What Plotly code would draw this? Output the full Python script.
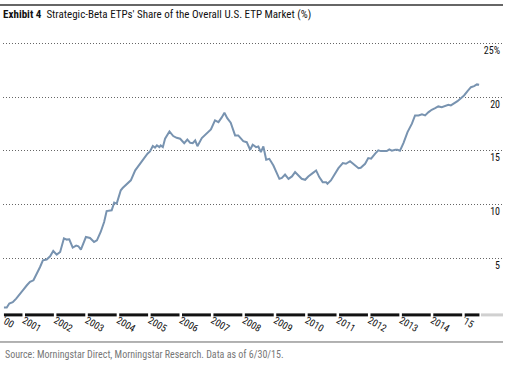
import plotly.graph_objects as go

# Data (decimal years, % share)
year = [2000.36, 2000.45, 2000.53, 2000.64, 2000.75, 2000.85, 2000.98, 2001.09, 2001.19, 2001.30,
        2001.40, 2001.51, 2001.60, 2001.72, 2001.83, 2001.93, 2002.04, 2002.15, 2002.27, 2002.36,
        2002.44, 2002.55, 2002.66, 2002.73, 2002.81, 2002.97, 2003.10, 2003.23, 2003.32, 2003.44,
        2003.55, 2003.63, 2003.79, 2003.87, 2003.95, 2004.08, 2004.14, 2004.27, 2004.40, 2004.54,
        2004.69, 2004.80, 2004.93, 2005.01, 2005.10, 2005.17, 2005.23, 2005.31, 2005.35, 2005.42,
        2005.49, 2005.63, 2005.75, 2005.86, 2005.97, 2006.10, 2006.20, 2006.29, 2006.37, 2006.45,
        2006.52, 2006.66, 2006.82, 2006.95, 2007.08, 2007.19, 2007.30, 2007.38, 2007.47, 2007.58,
        2007.72, 2007.82, 2007.98, 2008.09, 2008.20, 2008.28, 2008.39, 2008.46, 2008.54, 2008.62,
        2008.71, 2008.81, 2008.94, 2009.05, 2009.13, 2009.21, 2009.31, 2009.42, 2009.53, 2009.63,
        2009.74, 2009.84, 2009.95, 2010.05, 2010.19, 2010.30, 2010.40, 2010.51, 2010.62, 2010.66,
        2010.77, 2010.87, 2011.01, 2011.15, 2011.25, 2011.38, 2011.51, 2011.65, 2011.72, 2011.86,
        2011.96, 2012.05, 2012.18, 2012.28, 2012.36, 2012.46, 2012.55, 2012.63, 2012.71, 2012.82,
        2012.89, 2012.97, 2013.08, 2013.21, 2013.35, 2013.45, 2013.56, 2013.67, 2013.77, 2013.88,
        2013.98, 2014.09, 2014.19, 2014.30, 2014.41, 2014.51, 2014.59, 2014.69, 2014.80, 2014.91,
        2015.01, 2015.12, 2015.23, 2015.33, 2015.42, 2015.49]
share = [0.41, 0.41, 0.79, 0.91, 1.25, 1.65, 2.09, 2.49, 2.80, 2.95,
         3.51, 4.19, 4.81, 4.88, 5.19, 5.68, 5.34, 5.59, 6.86, 6.74,
         6.77, 6.00, 6.18, 6.12, 5.81, 6.98, 6.89, 6.52, 6.67, 7.45,
         8.38, 9.40, 9.47, 10.18, 10.09, 11.33, 11.54, 11.95, 12.26, 13.19,
         13.81, 14.27, 14.74, 14.95, 15.45, 15.30, 15.51, 15.35, 15.51, 15.35,
         16.13, 16.81, 16.38, 16.22, 16.13, 15.72, 16.06, 15.75, 15.72, 15.97,
         15.44, 16.19, 16.60, 17.00, 17.84, 17.68, 18.14, 18.55, 18.05, 17.62,
         16.44, 16.44, 15.91, 15.81, 15.11, 15.57, 15.35, 15.41, 14.88, 15.41,
         14.17, 14.26, 13.64, 12.87, 12.40, 12.49, 12.80, 12.40, 12.62, 13.02,
         12.71, 12.40, 12.31, 12.62, 12.93, 13.18, 12.56, 12.09, 12.09, 11.94,
         12.25, 12.71, 13.39, 13.86, 13.80, 14.04, 13.74, 13.39, 13.43, 13.80,
         14.33, 14.27, 14.74, 15.05, 14.98, 14.95, 14.98, 15.14, 15.02, 15.11,
         15.11, 15.02, 15.73, 16.75, 17.53, 18.30, 18.30, 18.40, 18.30, 18.61,
         18.83, 18.98, 19.14, 19.07, 19.23, 19.30, 19.23, 19.39, 19.63, 19.91,
         20.16, 20.56, 20.93, 21.03, 21.19, 21.16]

year_starts = [2000.36, 2001, 2002, 2003, 2004, 2005, 2006, 2007, 2008,
               2009, 2010, 2011, 2012, 2013, 2014, 2015]
year_labels = ["'00", "2001", "2002", "2003", "2004", "2005", "2006", "2007", "2008",
               "2009", "2010", "2011", "2012", "2013", "2014", "'15"]
data_end = 2015.5
axis_end = 2016.25
axis_start = 2000.33

y_ticks = [5, 10, 15, 20, 25]
y_labels = ["5", "10", "15", "20", "25%"]

FONT = "Liberation Sans Narrow, Arial Narrow, Roboto Condensed, sans-serif"

fig = go.Figure()
fig.add_trace(go.Scatter(x=year, y=share, mode="lines",
                         line=dict(color="#7893b0", width=2), hoverinfo="skip"))

shapes = []
# year segments under the axis
bounds = year_starts + [data_end]
for i in range(len(year_starts)):
    x0 = bounds[i] + (0.0 if i == 0 else 0.03)
    x1 = bounds[i + 1] - 0.05 if i + 1 < len(year_starts) else bounds[i + 1]
    shapes.append(dict(type="line", xref="x", yref="paper", x0=x0, x1=x1,
                       y0=-0.01, y1=-0.01, line=dict(color="#111111", width=3)))
shapes.append(dict(type="line", xref="x", yref="paper", x0=data_end + 0.05, x1=axis_end,
                   y0=-0.01, y1=-0.01, line=dict(color="#d0d0d0", width=3)))
# top rule and source rule
shapes.append(dict(type="line", xref="paper", yref="paper", x0=-0.006, x1=1.0,
                   y0=1.0586, y1=1.0586, line=dict(color="#333333", width=1.5)))
shapes.append(dict(type="line", xref="paper", yref="paper", x0=-0.006, x1=1.0,
                   y0=-0.1034, y1=-0.1034, line=dict(color="#666666", width=1)))

fig.update_layout(
    width=520, height=365,
    margin=dict(l=3, r=17, t=22, b=53),
    paper_bgcolor="white", plot_bgcolor="white",
    showlegend=False,
    shapes=shapes,
    font=dict(family=FONT, size=10, color="#111111"),
    title=dict(text="<b>Exhibit 4</b>  Strategic-Beta ETPs' Share of the Overall U.S. ETP Market (%)",
               x=0.006, xanchor="left", xref="container",
               y=1 - 14 / 365, yanchor="middle", yref="container",
               font=dict(family=FONT, size=11, color="#111111")),
    annotations=[dict(text="Source: Morningstar Direct, Morningstar Research. Data as of 6/30/15.",
                      xref="paper", yref="paper", x=0, y=-0.145, xanchor="left", yanchor="middle",
                      showarrow=False, font=dict(family=FONT, size=10, color="#777777"))],
    xaxis=dict(range=[axis_start, axis_end], tickvals=year_starts, ticktext=year_labels,
               ticklabelposition="outside right", ticks="", showgrid=False, zeroline=False,
               showline=False, automargin=False,
               tickfont=dict(family=FONT, size=10, color="#111111")),
    yaxis=dict(range=[0, 27], tickvals=y_ticks, ticktext=y_labels, side="right",
               ticklabelposition="inside bottom", ticks="", showgrid=True,
               gridcolor="#666666", gridwidth=1, griddash="1px,2px",
               zeroline=False, showline=False, automargin=False,
               tickfont=dict(family=FONT, size=10, color="#111111")),
)

fig.write_html("out.html", config={"displayModeBar": False},
               post_script="document.body.style.margin='0';")
